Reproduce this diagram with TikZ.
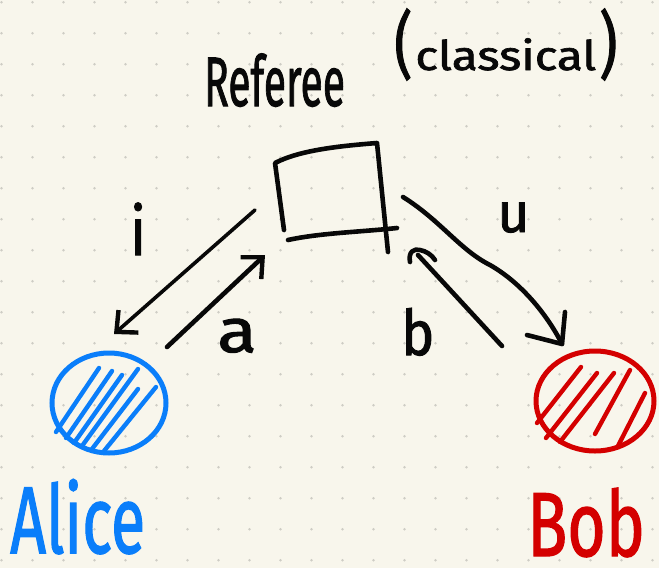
\documentclass[tikz,border=0pt]{standalone}
\usepackage{fontspec}
\setmainfont{Fira Sans}
\newfontfamily\marker{Fira Sans}[FakeBold=1.6]
\usetikzlibrary{arrows.meta}
\definecolor{paper}{RGB}{248,246,236}
\definecolor{griddot}{RGB}{206,205,197}
\definecolor{ink}{RGB}{8,8,8}
\definecolor{alicecol}{RGB}{10,126,250}
\definecolor{bobcol}{RGB}{212,0,0}
\begin{document}
\begin{tikzpicture}[x=1pt,y=-1pt,
  pen/.style={line width=4.6pt, line cap=round, line join=round, ink},
  thinpen/.style={line width=3.6pt, line cap=round, line join=round, ink},
  hatch/.style={line width=4.4pt, line cap=round},
  barb/.style={-{Straight Barb[length=16pt,width=30pt,line width=4.4pt]}},
  hand/.style={inner sep=0pt, anchor=base west}]
% paper with dot grid
\fill[paper] (0,0) rectangle (659,568);
\useasboundingbox (0,0) rectangle (659,568);
\foreach \i in {0,...,21}
  \foreach \j in {0,...,18}
    \fill[griddot] (1.5+31*\i, 2.3+31*\j) circle (1.4);

% title
\node[hand, ink, font=\marker\fontsize{40}{40}\selectfont] (referee) at (204,106)
  {\scalebox{1.02}[1.75]{Referee}};
\node[hand, ink, font=\marker] (classical) at (394,70)
  {\scalebox{1}[1.3]{\fontsize{56}{56}\selectfont(}\hspace{3pt}%
   \scalebox{1.4}[1.2]{\fontsize{34}{34}\selectfont classical}\hspace{3pt}%
   \scalebox{1}[1.3]{\fontsize{56}{56}\selectfont)}};

% the referee box
\coordinate (boxTL) at (275,163);
\coordinate (boxTR) at (377,143);
\coordinate (boxRB) at (388,252);
\coordinate (boxLB) at (284,230);
\coordinate (boxBL) at (288,240);
\coordinate (boxBR) at (397,228);
\draw[pen] (boxLB) -- (boxTL) .. controls (300,150) and (340,146) .. (boxTR) -- (boxRB);
\draw[pen] (boxBL) .. controls (320,233) and (360,232) .. (boxBR);

% Alice and Bob
\coordinate (aliceC) at (109,403);
\coordinate (bobC) at (595,401);
\draw[alicecol, line width=5pt] (aliceC) ellipse [x radius=57, y radius=50];
\draw[bobcol, line width=5pt] (bobC) ellipse [x radius=59, y radius=50];
\foreach \a/\b in {{56,432}/{99,368}, {66,438}/{112,371}, {74,443}/{122,375},
                   {82,446}/{138,369}, {92,449}/{138,389}, {104,451}/{156,387}}
  \draw[hatch, alicecol] (\a) -- (\b);
\foreach \a/\b in {{537,423}/{581,367}, {546,438}/{597,373}, {560,442}/{614,373},
                   {595,434}/{630,370}, {618,446}/{645,393}}
  \draw[hatch, bobcol] (\a) -- (\b);
\node[hand, alicecol, font=\marker\fontsize{64}{64}\selectfont] (alice) at (10,553)
  {\scalebox{0.98}[1.48]{Alice}};
\node[hand, bobcol, font=\marker\fontsize{64}{64}\selectfont] (bob) at (527,556)
  {\scalebox{1.03}[1.42]{Bob}};

% messages between referee and players
\coordinate (iFrom) at (255,210);
\coordinate (iTo) at (114,334);
\coordinate (aFrom) at (167,347);
\coordinate (aTo) at (265,255);
\coordinate (bFrom) at (502,346);
\coordinate (bTo) at (418,255);
\coordinate (uFrom) at (403,197);
\coordinate (uTo) at (562,344);
\draw[thinpen, barb] (iFrom) -- (iTo);
\draw[pen, barb] (aFrom) -- (aTo);
\draw[pen] (bFrom) -- (bTo);
\draw[pen] (410,262) .. controls (408,252) and (414,248) .. (420,250)
  .. controls (426,251) and (432,255) .. (435,260);
\draw[pen] (uFrom) .. controls (440,220) and (460,250) .. (490,265)
  .. controls (525,285) and (550,320) .. (uTo);
\draw[pen] (527,335) -- (uTo) -- (565,312);

% labels
\node[hand, ink, font=\marker\fontsize{56}{56}\selectfont] (iLabel) at (130,255)
  {\scalebox{1}[1.2]{i}};
\node[hand, ink, font=\marker\fontsize{56}{56}\selectfont] (aLabel) at (217,352)
  {\scalebox{1.3}[1.1]{a}};
\node[hand, ink, font=\marker\fontsize{56}{56}\selectfont] (bLabel) at (401,355)
  {\scalebox{1}[1.12]{b}};
\node[hand, ink, font=\marker\fontsize{56}{56}\selectfont] (uLabel) at (497,232)
  {u};
\end{tikzpicture}
\end{document}
